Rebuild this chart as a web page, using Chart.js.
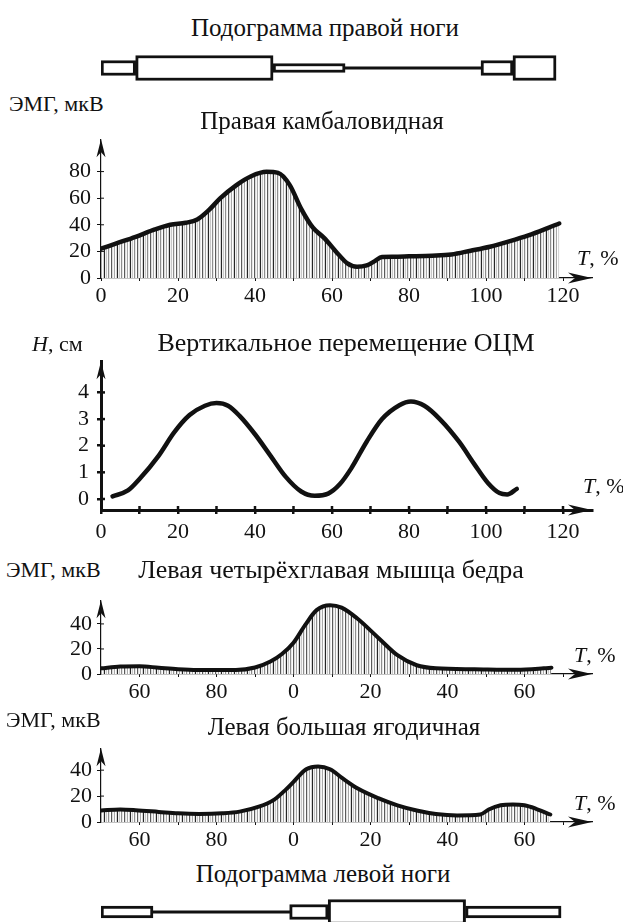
<!DOCTYPE html>
<html><head><meta charset="utf-8">
<script src="https://cdn.jsdelivr.net/npm/chart.js@4.4.1/dist/chart.umd.min.js"></script>
<style>
html,body{margin:0;padding:0;background:#fff;}
body{width:623px;height:922px;position:relative;overflow:hidden;color:#111;}
canvas{position:absolute;left:0;}
.t{position:absolute;white-space:nowrap;line-height:1;transform:translate(-50%,-50%);z-index:5;}
.l{position:absolute;white-space:nowrap;line-height:1;transform:translateY(-50%);z-index:5;}
</style></head><body>
<canvas id="podR"></canvas>
<canvas id="c1"></canvas>
<canvas id="c2"></canvas>
<canvas id="c3"></canvas>
<canvas id="c4"></canvas>
<canvas id="podL"></canvas>

<div class="t" style="left:325px;top:27px;font-size:25px">Подограмма правой ноги</div>
<div class="l" style="left:9px;top:104px;font-size:22px">ЭМГ, мкВ</div>
<div class="t" style="left:322px;top:120px;font-size:25px">Правая камбаловидная</div>
<div class="l" style="left:577px;top:258px;font-size:22px"><i>T</i>, %</div>

<div class="l" style="left:32px;top:344px;font-size:22px"><i>H</i>, см</div>
<div class="t" style="left:346px;top:343px;font-size:26px">Вертикальное перемещение ОЦМ</div>
<div class="l" style="left:583px;top:486px;font-size:22px"><i>T</i>, %</div>

<div class="l" style="left:6px;top:570px;font-size:22px">ЭМГ, мкВ</div>
<div class="t" style="left:331px;top:570px;font-size:26px">Левая четырёхглавая мышца бедра</div>
<div class="l" style="left:574px;top:655px;font-size:22px"><i>T</i>, %</div>

<div class="l" style="left:6px;top:720px;font-size:22px">ЭМГ, мкВ</div>
<div class="t" style="left:344px;top:726px;font-size:25px">Левая большая ягодичная</div>
<div class="l" style="left:574px;top:803px;font-size:22px"><i>T</i>, %</div>

<div class="t" style="left:323px;top:873px;font-size:25px">Подограмма левой ноги</div>

<script>
// ---------- DATA ----------
// Right soleus EMG (T, % of cycle; EMG, µV)
const soleusT   = [0, 4, 9, 14, 18, 22, 25, 28, 31, 35, 39, 43, 46, 49, 52, 55, 58, 61, 64, 66.5, 69, 71, 73, 76, 80, 86, 91, 96, 101, 106, 111, 116, 119];
const soleusEMG = [22, 26, 31, 36.5, 40, 41.5, 44, 51, 60, 69.5, 76.5, 79.8, 79, 70, 52, 38, 30, 20, 11, 8.5, 9.5, 12.5, 15.8, 16, 16.3, 16.8, 17.7, 20.5, 23.5, 27.5, 32, 37.5, 41];
// Vertical displacement of the centre of mass (H, cm)
const comT = [3, 7, 10, 15, 19, 23, 27, 30, 33, 36, 40, 44, 48, 52, 55.5, 59, 62, 65, 69, 73, 77.5, 80.5, 84, 88, 93, 97, 100.5, 103.5, 105.5, 108];
const comH = [0.1, 0.32, 0.75, 1.63, 2.5, 3.15, 3.5, 3.6, 3.5, 3.12, 2.43, 1.63, 0.83, 0.28, 0.12, 0.2, 0.55, 1.15, 2.15, 3.0, 3.52, 3.66, 3.5, 3.0, 2.15, 1.3, 0.6, 0.22, 0.17, 0.38];
// Left quadriceps EMG (negative T = previous cycle, 50..100 %)
const quadT   = [-50, -45, -40, -35, -30, -25, -15, -10, -6, -3, 0, 3, 6, 9.5, 12.5, 16.5, 22, 27, 32, 37, 47, 58, 65, 67];
const quadEMG = [4.5, 6, 6.2, 5, 3.8, 3.2, 3.2, 5.2, 10, 16, 25, 39, 51, 55, 53, 44.5, 29, 15, 7, 4.5, 3.8, 3.4, 4.5, 5];
// Left gluteus maximus EMG
const glutT   = [-50, -45, -41, -35, -30, -24.5, -18.5, -14, -9, -5, -2, 0, 3.3, 6.4, 9.5, 12.6, 16.7, 22, 27, 32, 37, 42.5, 48.5, 50.7, 53.8, 57, 60, 63, 66.7];
const glutEMG = [8.9, 9.6, 9.1, 7.8, 6.7, 6.2, 6.7, 8, 11.8, 17.3, 25, 31, 40.7, 42.9, 40.7, 34, 25.8, 18.4, 12.9, 8.9, 6.2, 5.1, 5.8, 9.6, 12.9, 13.6, 12.9, 10.2, 5.8];
// Podograms (phase start / end in % of cycle, kind of contact)
const podRightStart = [0, 9, 44.7, 63.4, 98.7, 107];
const podRightEnd   = [9, 44.7, 63.4, 98.7, 107, 118.2];
const podRightKind  = ['small', 'big', 'narrow', 'line', 'small', 'big'];
const podLeftStart  = [-50, -36.5, -1, 9, 44.7];
const podLeftEnd    = [-36.5, -1, 9, 44.7, 69.5];
const podLeftKind   = ['mid', 'line', 'small', 'big', 'mid'];
// Tick values and labels
const pctTickValues   = [0, 10, 20, 30, 40, 50, 60, 70, 80, 90, 100, 110, 120];
const pctTickLabels   = ['0', '', '20', '', '40', '', '60', '', '80', '', '100', '', '120'];
const cycleTickValues = [-40, -30, -20, -10, 0, 10, 20, 30, 40, 50, 60, 70];
const cycleTickLabels = ['60', '', '80', '', '0', '', '20', '', '40', '', '60', ''];
const soleusYTicks = [0, 20, 40, 60, 80];
const comYTicks    = [0, 1, 2, 3, 4];
const leftYTicks   = [0, 20, 40];

// ---------- FONT ----------
function pickFont(cands) {
  const c = document.createElement('canvas').getContext('2d');
  const s = 'Подограмма ОЦМ 0123456789 mmmwwwlliiTT';
  const widthOf = f => { c.font = '40px ' + f; return c.measureText(s).width; };
  const bM = widthOf('monospace'), bS = widthOf('sans-serif');
  for (const f of cands) {
    if (widthOf("'" + f + "', monospace") !== bM || widthOf("'" + f + "', sans-serif") !== bS) return "'" + f + "'";
  }
  return 'serif';
}
const FONT = pickFont(['Liberation Serif', 'Tinos', 'Times New Roman', 'Nimbus Roman', 'DejaVu Serif', 'Noto Serif']) + ', serif';
document.body.style.fontFamily = FONT;

// ---------- STYLE / GEOMETRY ----------
const AXIS_LEFT = 101, AXIS_RIGHT = 592, W = 623;
const PX_PER_PCT = 3.85;
const PODH = {big: 25, small: 15, mid: 12, narrow: 9, line: 2.5};

function hatch(ctx) {
  const c = document.createElement('canvas');
  const cols = ['#262626', '#f0f0f0', '#c8c8c8', '#fafafa', '#8f8f8f', '#e6e6e6', '#ffffff', '#5a5a5a', '#dcdcdc', '#f5f5f5', '#a8a8a8', '#ffffff', '#d6d6d6'];
  c.width = cols.length; c.height = 4;
  const g = c.getContext('2d');
  cols.forEach((col, i) => { g.fillStyle = col; g.fillRect(i, 0, 1, 4); });
  return ctx.createPattern(c, 'repeat');
}

const arrowPlugin = {
  id: 'arrows',
  afterDraw(chart) {
    const {ctx, chartArea: {left, top, right, bottom}} = chart;
    ctx.save();
    ctx.fillStyle = '#111';
    ctx.beginPath();
    ctx.moveTo(left, top); ctx.lineTo(left - 4.5, top + 18); ctx.lineTo(left, top + 13); ctx.lineTo(left + 4.5, top + 18);
    ctx.closePath(); ctx.fill();
    ctx.beginPath();
    ctx.moveTo(right, bottom); ctx.lineTo(right - 24, bottom - 5.5); ctx.lineTo(right - 17, bottom); ctx.lineTo(right - 24, bottom + 5.5);
    ctx.closePath(); ctx.fill();
    const o = chart.options.plugins.innerTicks || {};
    ctx.strokeStyle = '#111';
    ctx.lineWidth = o.w || 1;
    const xs = chart.scales.x, ys = chart.scales.y;
    if (o.x) xs.ticks.forEach(t => { const p = xs.getPixelForValue(t.value); if (p > left + 2) { ctx.beginPath(); ctx.moveTo(p, bottom); ctx.lineTo(p, bottom - o.x); ctx.stroke(); } });
    if (o.y) ys.ticks.forEach(t => { const p = ys.getPixelForValue(t.value); if (p < bottom - 2) { ctx.beginPath(); ctx.moveTo(left, p); ctx.lineTo(left + o.y, p); ctx.stroke(); } });
    ctx.restore();
  }
};

function lineChart(id, c) {
  const cv = document.getElementById(id);
  const padTop = 8, xh = c.xh;
  cv.width = W; cv.height = (c.bottom - c.top) + padTop + xh;
  cv.style.top = (c.top - padTop) + 'px';
  const ctx = cv.getContext('2d');
  const xMax = c.xMin + (AXIS_RIGHT - AXIS_LEFT) / PX_PER_PCT;
  const yMax = c.yMin + (c.bottom - c.top) / c.pxPerY;
  return new Chart(ctx, {
    type: 'line',
    data: {datasets: [{
      data: c.T.map((t, i) => ({x: t, y: c.V[i]})),
      borderColor: '#111', borderWidth: c.lw, pointRadius: 0,
      cubicInterpolationMode: 'monotone',
      fill: c.fill ? 'origin' : false,
      backgroundColor: c.fill ? hatch(ctx) : 'rgba(0,0,0,0)',
      borderCapStyle: 'round', borderJoinStyle: 'round'
    }]},
    options: {
      responsive: false, animation: false, devicePixelRatio: 1,
      layout: {padding: {top: padTop, right: W - AXIS_RIGHT, left: 0, bottom: 0}},
      plugins: {legend: {display: false}, tooltip: {enabled: false}, title: {display: false},
        innerTicks: {x: c.inX, y: c.inY, w: c.tickW}},
      scales: {
        x: {
          type: 'linear', min: c.xMin, max: xMax, z: 1,
          afterFit: s => { s.height = xh; },
          afterBuildTicks: s => { s.ticks = c.xTicks.map(v => ({value: v})); },
          ticks: {autoSkip: false, maxRotation: 0, padding: c.xPad, color: '#111',
            font: {family: FONT, size: 22}, callback: (v, i) => c.xLabels[i]},
          grid: {display: true, drawOnChartArea: false, drawTicks: true, tickLength: c.tickLen, color: '#111', lineWidth: c.tickW},
          border: {display: true, color: '#111', width: c.axisW}
        },
        y: {
          type: 'linear', min: c.yMin, max: yMax, z: 1,
          afterFit: s => { s.width = AXIS_LEFT; },
          afterBuildTicks: s => { s.ticks = c.yTicks.map(v => ({value: v})); },
          ticks: {autoSkip: false, padding: c.yPad, color: '#111',
            font: {family: FONT, size: 22}, callback: v => String(v)},
          grid: {display: true, drawOnChartArea: false, drawTicks: true, tickLength: 4, color: '#111', lineWidth: c.tickW},
          border: {display: true, color: '#111', width: c.axisW}
        }
      }
    },
    plugins: [arrowPlugin]
  });
}

function podogram(id, centerY, starts, ends, kinds, xMin) {
  const H = 44;
  const cv = document.getElementById(id);
  cv.width = W; cv.height = H; cv.style.top = (centerY - H / 2) + 'px';
  const xMax = xMin + (AXIS_RIGHT - AXIS_LEFT) / PX_PER_PCT;
  const datasets = starts.map((s, i) => {
    const isLine = kinds[i] === 'line';
    return {data: [[s, ends[i]]], barThickness: PODH[kinds[i]], grouped: false, borderSkipped: false,
      borderWidth: isLine ? 0 : 3, borderColor: '#111', backgroundColor: isLine ? '#111' : '#fff',
      order: isLine ? 10 : 0};
  });
  return new Chart(cv, {
    type: 'bar',
    data: {labels: ['p'], datasets},
    options: {indexAxis: 'y', responsive: false, animation: false, devicePixelRatio: 1,
      layout: {padding: {left: AXIS_LEFT, right: W - AXIS_RIGHT, top: 0, bottom: 0}},
      plugins: {legend: {display: false}, tooltip: {enabled: false}},
      scales: {x: {type: 'linear', min: xMin, max: xMax, display: false}, y: {display: false}}}
  });
}

podogram('podR', 68, podRightStart, podRightEnd, podRightKind, 0);

lineChart('c1', {T: soleusT, V: soleusEMG, fill: true, lw: 4.5,
  top: 128, bottom: 278, yMin: 0, pxPerY: 115 / 80, xMin: 0, xh: 30,
  xTicks: pctTickValues, xLabels: pctTickLabels, yTicks: soleusYTicks,
  axisW: 1.2, tickW: 1, tickLen: 3, xPad: 2, yPad: 6, inX: 0, inY: 3});

lineChart('c2', {T: comT, V: comH, fill: false, lw: 4.5,
  top: 348, bottom: 510, yMin: -12 / 29, pxPerY: 29, xMin: 0, xh: 32,
  xTicks: pctTickValues, xLabels: pctTickLabels, yTicks: comYTicks,
  axisW: 3, tickW: 2.5, tickLen: 4, xPad: 5, yPad: 8, inX: 4, inY: 4});

lineChart('c3', {T: quadT, V: quadEMG, fill: true, lw: 4,
  top: 590, bottom: 674, yMin: 0, pxPerY: 57 / 40, xMin: -50, xh: 30,
  xTicks: cycleTickValues, xLabels: cycleTickLabels, yTicks: leftYTicks,
  axisW: 1.2, tickW: 1, tickLen: 3, xPad: 2, yPad: 5, inX: 0, inY: 3});

lineChart('c4', {T: glutT, V: glutEMG, fill: true, lw: 4,
  top: 738, bottom: 822, yMin: 0, pxPerY: 59 / 40, xMin: -50, xh: 30,
  xTicks: cycleTickValues, xLabels: cycleTickLabels, yTicks: leftYTicks,
  axisW: 1.2, tickW: 1, tickLen: 3, xPad: 2, yPad: 5, inX: 0, inY: 3});

podogram('podL', 912, podLeftStart, podLeftEnd, podLeftKind, -50);
</script>
</body></html>
